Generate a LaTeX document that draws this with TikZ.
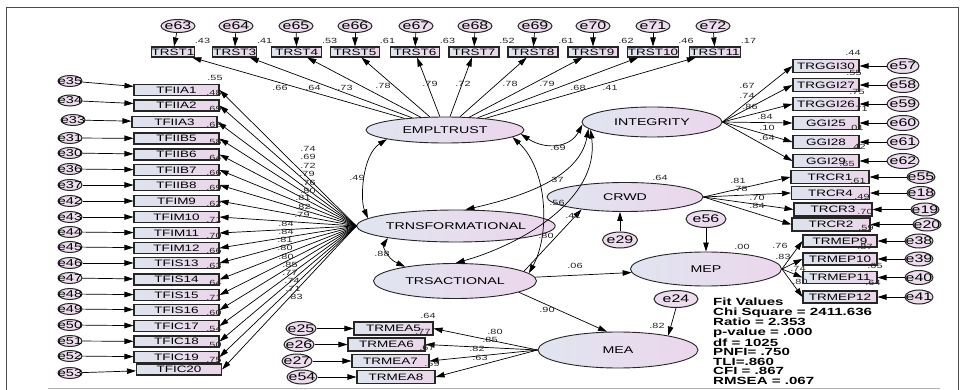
\documentclass[tikz,border=0pt]{standalone}
\usepackage{fontspec}
\setmainfont{Liberation Sans}[FakeStretch=1.45]
\usetikzlibrary{arrows.meta,shapes.geometric}
\definecolor{boxL}{RGB}{221,228,238}
\definecolor{boxR}{RGB}{236,213,234}
\definecolor{latL}{RGB}{224,229,240}
\definecolor{latR}{RGB}{236,214,236}
\definecolor{errF}{RGB}{236,220,238}
\tikzset{
  obs/.style={rectangle, draw=black!85, line width=1.1pt, left color=boxL, right color=boxR,
    minimum height=10pt, inner sep=0pt, font=\fontsize{9.3}{10}\selectfont},
  lat/.style={ellipse, draw=black!85, line width=0.9pt, left color=latL, right color=latR,
    inner sep=0pt, font=\fontsize{9.8}{10}\selectfont},
  err/.style={ellipse, draw=black!85, line width=1pt, fill=errF, inner sep=0pt,
    minimum width=34pt, minimum height=13pt,
    label={[inner sep=0pt, font=\fontsize{11}{12}\selectfont]center:#1}},
  serr/.style={ellipse, draw=black!85, line width=1pt, fill=errF, inner sep=0pt,
    minimum width=24pt, minimum height=11pt,
    label={[inner sep=0pt, font=\fontsize{10}{11}\selectfont]center:#1}},
  arr/.style={-{Triangle[length=9pt,width=5.5pt]}, line width=0.7pt},
  cov/.style={{Triangle[length=9pt,width=5.5pt]}-{Triangle[length=9pt,width=5.5pt]}, line width=0.7pt},
  num/.style={inner sep=0pt, font=\fontsize{7.5}{8}\selectfont, text=black!85},
}
\begin{document}
\begin{tikzpicture}[x=1pt,y=-1pt]
\useasboundingbox (0,0) rectangle (964,390);
% page frame
\draw[line width=1pt, black!70] (6,390) -- (6,8) -- (958,8) -- (958,390);
\draw[line width=1pt, black!30] (48,388) -- (940,388);

% latent variables
\node[lat, minimum width=158pt, minimum height=26pt] (emp)   at (445,130) {EMPLTRUST};
\node[lat, minimum width=140pt, minimum height=30pt] (integ) at (652,122) {INTEGRITY};
\node[lat, minimum width=156pt, minimum height=29pt] (crwd)  at (625,197) {CRWD};
\node[lat, minimum width=176pt, minimum height=32pt] (trns)  at (456,226) {TRNSFORMATIONAL};
\node[lat, minimum width=163pt, minimum height=35pt] (trsa)  at (455,281) {TRSACTIONAL};
\node[lat, minimum width=151pt, minimum height=34pt] (mep)   at (706,269) {MEP};
\node[lat, minimum width=160pt, minimum height=36pt] (mea)   at (618,350) {MEA};

% disturbances of the endogenous latents
\node[err=e29, minimum width=35pt, minimum height=16pt] (e29) at (620,240) {};
\node[err=e56, minimum width=40pt, minimum height=17pt] (e56) at (706,219) {};
\node[err=e24, minimum width=44pt, minimum height=17pt] (e24) at (676,299) {};
\draw[arr] (e29.north) -- (crwd.south -| e29.north);
\draw[arr] (e56) -- (mep);
\draw[arr] (e24.south) -- (mea.16);

% employee trust indicators (top row)
\foreach \nm/\x/\w/\e/\ex/\rs in {TRST1/173/43/63/178/.43, TRST3/234.7/44/64/236/.41,
  TRST4/296.7/50/65/296/.53, TRST5/355/49/66/355/.61, TRST6/415/49/67/416/.63,
  TRST7/474/50/68/475/.52, TRST8/533/50/69/535/.61, TRST9/593/50/70/593/.62,
  TRST10/653/50/71/653/.46, TRST11/715/51/72/713/.17}
{
  \node[obs, minimum width=\w pt] (\nm) at (\x,52) {\nm};
  \node[err=e\e] (e\e) at (\ex,26) {};
  \draw[arr] (e\e) -- (\nm);
  \draw[arr] (emp) -- (\nm);
  \node[num] at ({\x+\w/2+8},41) {\rs};
}
\foreach \t/\x/\y in {.66/280/88, .64/313/88, .73/345/88, .78/383/86, .79/430/84,
  .72/463/84, .78/510/84, .79/547/84, .68/578/88, .41/610/88}
  \node[num] at (\x,\y) {\t};

% transformational leadership indicators (left column)
\foreach \nm/\bx/\y/\e/\ex/\ey/\rs in {TFIIA1/176.5/90/35/70/81/.48, TFIIA2/176.5/105.5/34/70/100.5/.69,
  TFIIA3/174.5/122/33/73/120/.68, TFIIB5/176.5/138.5/31/70/138/.58, TFIIB6/176.5/154.5/30/70/153/.64,
  TFIIB7/176.5/170/36/70/169/.66, TFIIB8/176.5/185/37/70/185/.69, TFIM9/176.5/201/42/70/201/.62,
  TFIM10/176.5/217/43/70/217/.71, TFIM11/176.5/233/44/70/232/.70, TFIM12/176.5/248/45/70/247/.66,
  TFIS13/176.5/263/46/70/263/.63, TFIS14/176.5/279.5/47/70/278/.64, TFIS15/176.5/295/48/70/294/.71,
  TFIS16/176.5/310/49/70/309/.60, TFIC17/176.5/326/50/70/325/.54, TFIC18/176.5/341.5/51/70/341/.50,
  TFIC19/176.5/357/52/70/356/.75, TFIC20/179/369.5/53/70/373/}
{
  \node[obs, minimum width=85pt, minimum height=11pt] (\nm) at (\bx,\y) {\nm};
  \node[serr=e\e] (e\e) at (\ex,\ey) {};
  \draw[arr] (e\e) -- (\nm);
  \draw[arr] (trns.west) -- (\nm.east);
  \node[num] at (214,{\y+3}) {\rs};
}
\node[num] at (215,78) {.55};
\foreach \t/\x/\y in {.74/308/149, .69/308/157, .72/308/166, .79/307/174, .76/308/183,
  .80/308/191, .81/303/198, .82/303/207, .79/302/215, .84/286/224, .84/286/232, .81/285/240,
  .80/285/248, .80/286/257, .85/290/265, .77/290/273, .74/292/281, .71/293/289, .83/295/297}
  \node[num] at (\x,\y) {\t};

% integrity indicators
\foreach \nm/\y/\e in {TRGGI30/66/57, TRGGI27/85/58, TRGGI26/104/59, GGI25/123/60, GGI28/142/61, GGI29/161/62}
{
  \node[obs, minimum width=66pt, minimum height=13pt] (\nm) at (826,\y) {\nm};
  \node[err=e\e, minimum width=32pt, minimum height=15pt] (e\e) at (903,\y) {};
  \draw[arr] (e\e) -- (\nm);
  \draw[arr] (integ.east) -- (\nm.west);
}
\foreach \t/\x/\y in {.67/747/86, .74/747/96, .86/750/107, .84/765/117, .10/767/128, .64/767/138,
  .44/853/53, .55/854/73, .75/857/92, .71/860/109, .01/856/128, .42/858/147, .65/847/164}
  \node[num] at (\x,\y) {\t};

% CRWD indicators
\foreach \nm/\bx/\y/\e/\ex in {TRCR1/830/177/55/921, TRCR4/830.5/193/18/921, TRCR3/833/209.5/19/925, TRCR2/831/224.5/20/927}
{
  \node[obs, minimum width=78pt, minimum height=13pt] (\nm) at (\bx,\y) {\nm};
  \node[err=e\e, minimum width=28pt, minimum height=13pt] (e\e) at (\ex,\y) {};
  \draw[arr] (e\e) -- (\nm);
  \draw[arr] (crwd.east) -- (\nm.west);
}
\foreach \t/\x/\y in {.81/738/181, .78/740/189, .70/757/198, .84/757/206,
  .61/858/181, .49/862/197, .70/865/212, .59/866/228, .64/660/178}
  \node[num] at (\x,\y) {\t};

% MEP indicators
\foreach \nm/\y/\e in {TRMEP9/241/38, TRMEP10/259/39, TRMEP11/277.5/40, TRMEP12/297/41}
{
  \node[obs, minimum width=74pt, minimum height=12pt] (\nm) at (840,\y) {\nm};
  \node[err=e\e, minimum width=28pt, minimum height=14pt] (e\e) at (919,\y) {};
  \draw[arr] (e\e) -- (\nm);
  \draw[arr] (mep.east) -- (\nm.west);
}
\foreach \t/\x/\y in {.76/780/246, .83/783/257, .74/798/269, .80/800/282,
  .87/865/247, .65/875/266, .64/873/283, .00/742/247}
  \node[num] at (\x,\y) {\t};

% MEA indicators
\foreach \nm/\bx/\y/\w/\e/\ex in {TRMEA5/393.5/328.5/79/25/301, TRMEA6/386.5/344.5/77/26/299,
  TRMEA7/390.5/361/77/27/297, TRMEA8/396/377/78/54/302}
{
  \node[obs, minimum width=\w pt, minimum height=13pt] (\nm) at (\bx,\y) {\nm};
  \node[err=e\e, minimum width=30pt, minimum height=14pt] (e\e) at (\ex,\y) {};
  \draw[arr] (e\e) -- (\nm);
  \draw[arr] (mea.west) -- (\nm.east);
}
\foreach \t/\x/\y in {.64/428/316, .77/423/332, .67/427/348, .59/432/364,
  .80/495/332, .85/490/340, .82/477/349, .63/480/358}
  \node[num] at (\x,\y) {\t};

% structural paths
\draw[arr] (trsa.8) -- (crwd.196);
\draw[arr] (trsa) -- (mep);
\draw[arr] (trsa.-10.5) -- (mea.121);

% covariances among the exogenous latents
\draw[cov] (emp.189) .. controls (362,155) and (360,200) .. (trns.175);
\draw[cov] (trns.190) .. controls (383,245) and (386,258) .. (trsa.164);
\draw[cov] (emp.-3) .. controls (545,150) and (570,148) .. (integ.182);
\draw[cov] (integ.186) .. controls (580,175) and (530,195) .. (trns.60);
\draw[cov] (emp.-6) .. controls (548,170) and (550,235) .. (trsa.6);
\draw[cov] (integ.187) .. controls (600,200) and (520,245) .. (trsa.88);

\foreach \t/\x/\y in {.49/357/178, .88/382/254, .69/558/148, .37/556/180, .56/557/203,
  .41/573/216, .80/546/236, .06/575/266, .90/547/310, .82/657/326}
  \node[num] at (\x,\y) {\t};

% fit statistics
\node[anchor=north west, inner sep=0pt, align=left, font=\bfseries\fontsize{10.4}{9.5}\selectfont]
  (fit) at (713,298) {Fit Values\\Chi Square = 2411.636\\Ratio = 2.353\\p-value = .000\\df = 1025\\PNFI= .750\\TLI=.860\\CFI = .867\\RMSEA = .067};
\end{tikzpicture}
\end{document}
